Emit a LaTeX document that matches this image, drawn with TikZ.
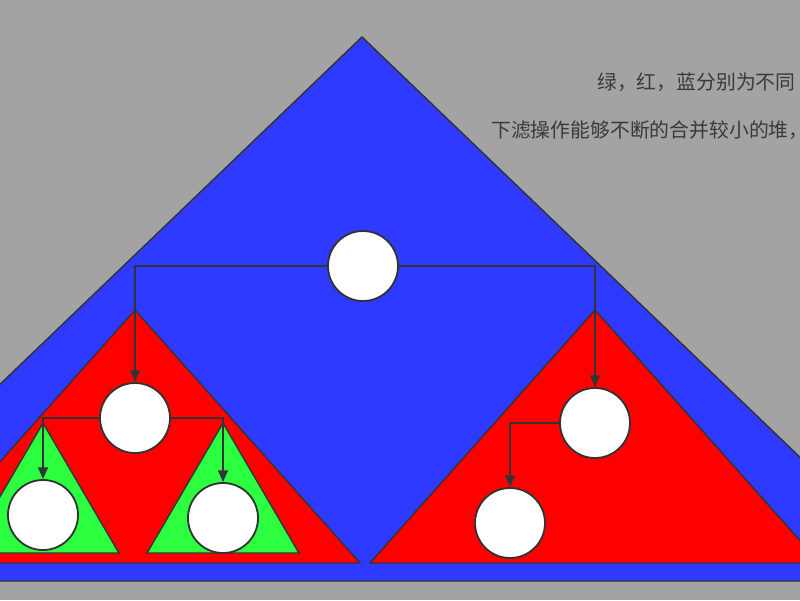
\documentclass[tikz,border=0pt]{standalone}
\usepackage{fontspec}
\usepackage{xcolor}
\usepackage{tikz}
\usetikzlibrary{arrows.meta}
\newfontfamily\cjk{Noto Sans CJK SC}
\definecolor{bg}{HTML}{A3A3A3}
\definecolor{blueheap}{HTML}{2E3AFF}
\definecolor{redheap}{HTML}{FF0000}
\definecolor{greenheap}{HTML}{2BFF3F}
\definecolor{edge}{HTML}{333333}
\definecolor{notetext}{HTML}{3A3A3A}
\tikzset{
  heap/.style={draw=edge, line width=1pt, line join=miter},
  key/.style={circle, draw=edge, fill=white, line width=1.3pt, minimum size=1.75cm, inner sep=0pt},
  link/.style={draw=edge, line width=1.4pt, -{Triangle[length=2.9mm,width=2.4mm]}},
  note/.style={text=notetext, font=\cjk\fontsize{14.1}{16}\selectfont, anchor=west, inner sep=0pt},
}

\begin{document}
\begin{tikzpicture}[x=0.025cm,y=-0.025cm]
  \useasboundingbox (0,0) rectangle (800,600);
  \clip (0,0) rectangle (800,600);
  \fill[bg] (0,0) rectangle (800,600);

  % heaps
  \draw[heap, fill=blueheap] (362,37) -- (929,581) -- (-205,581) -- cycle;
  \draw[heap, fill=redheap] (135,310) -- (360,563) -- (-90,563) -- cycle;
  \draw[heap, fill=redheap] (595,310) -- (820,563) -- (370,563) -- cycle;
  \draw[heap, fill=greenheap] (43,423) -- (119,553) -- (-33,553) -- cycle;
  \draw[heap, fill=greenheap] (223,423) -- (299,553) -- (147,553) -- cycle;

  % keys
  \node[key] (root) at (363,266) {};
  \node[key] (L) at (135,418) {};
  \node[key] (R) at (595,423) {};
  \node[key] (LL) at (43,515) {};
  \node[key] (LR) at (223,518) {};
  \node[key] (RL) at (510,523) {};

  \draw[link] (root.west) -| (L.north);
  \draw[link] (root.east) -| (R.north);
  \draw[link] (L.west) -| (LL.north);
  \draw[link] (L.east) -| (LR.north);
  \draw[link] (R.west) -| (RL.north);

  \node[note] (note1) at (597,82) {绿，红，蓝分别为不同};
  \node[note] (note2) at (491,130) {下滤操作能够不断的合并较小的堆，};
\end{tikzpicture}
\end{document}
